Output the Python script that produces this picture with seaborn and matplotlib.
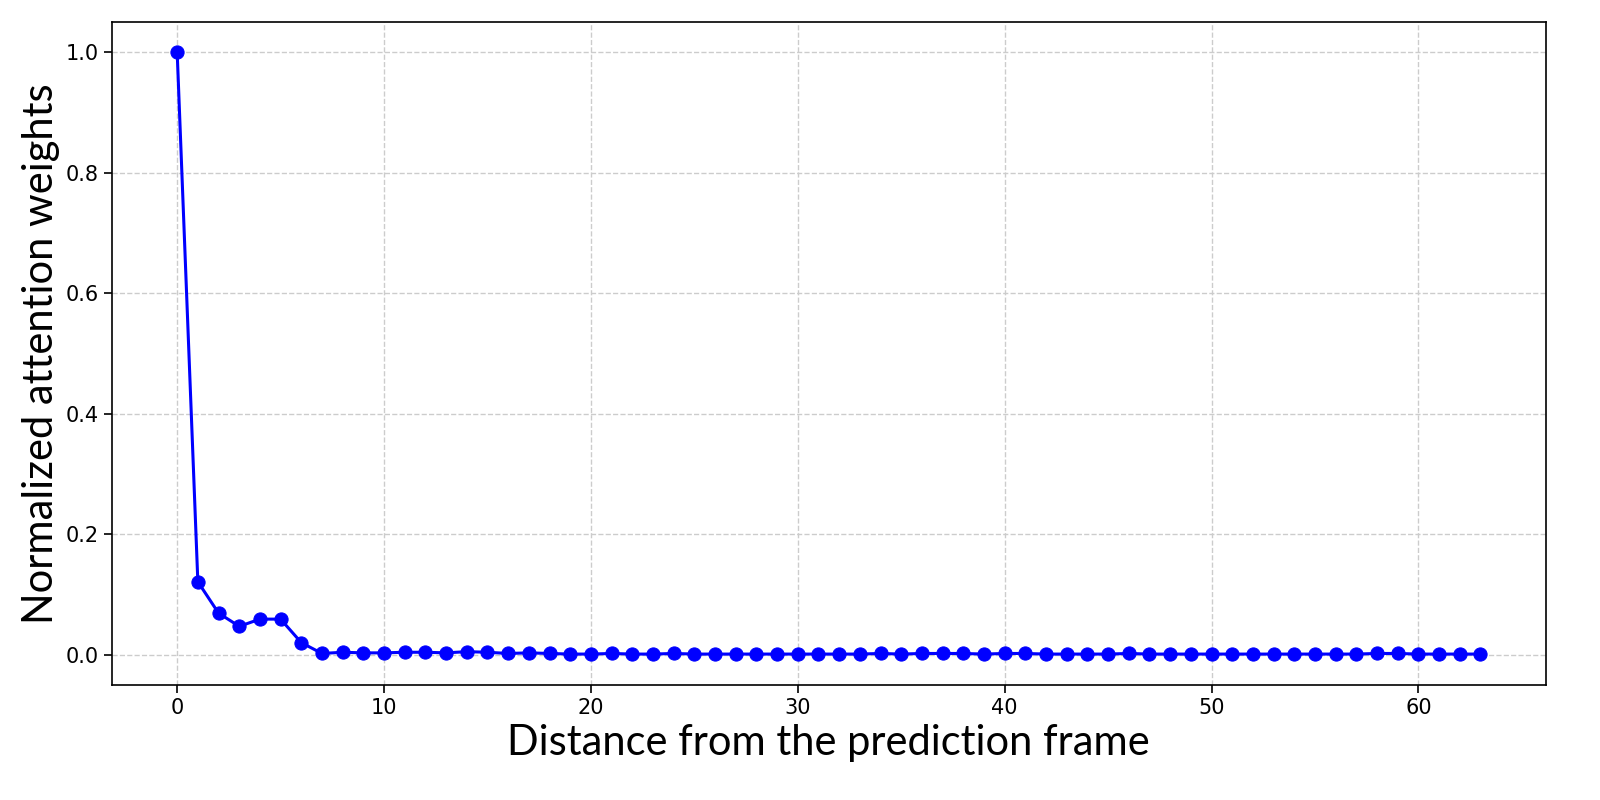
import numpy as np
import pandas as pd
import seaborn as sns
from matplotlib import pyplot as plt

# distance from the prediction frame, 0..63
distance = list(range(64))

# normalized attention weights
weights = [
    1.000, 0.121, 0.069, 0.047, 0.059, 0.059, 0.020, 0.002,
    0.004, 0.003, 0.003, 0.004, 0.004, 0.003, 0.005, 0.004,
    0.002, 0.003, 0.002, 0.001, 0.001, 0.002, 0.001, 0.001,
    0.002, 0.001, 0.001, 0.001, 0.001, 0.001, 0.001, 0.001,
    0.001, 0.001, 0.002, 0.001, 0.002, 0.002, 0.002, 0.001,
    0.002, 0.002, 0.001, 0.001, 0.001, 0.001, 0.002, 0.001,
    0.001, 0.001, 0.001, 0.001, 0.001, 0.001, 0.001, 0.001,
    0.001, 0.001, 0.002, 0.002, 0.001, 0.001, 0.001, 0.001,
]

df = pd.DataFrame({"distance": distance, "weight": weights})

sns.set_style("ticks", {"axes.edgecolor": "black", "xtick.color": "black",
                        "ytick.color": "black", "axes.labelcolor": "black",
                        "text.color": "black"})
plt.rcParams["font.family"] = ["DejaVu Sans"]

fig, ax = plt.subplots(figsize=(16, 8), dpi=100)
fig.subplots_adjust(left=0.07, right=0.966, top=0.9725, bottom=0.144)

sns.lineplot(data=df, x="distance", y="weight", ax=ax, color="blue",
             marker="o", markersize=9.5, markeredgecolor="blue", linewidth=2.2)

ax.grid(True, linestyle="--", color="#cccccc", linewidth=1)
ax.set_xticks([0, 10, 20, 30, 40, 50, 60])
ax.set_yticks([0.0, 0.2, 0.4, 0.6, 0.8, 1.0])
ax.set_yticklabels(["0.0", "0.2", "0.4", "0.6", "0.8", "1.0"])
ax.tick_params(labelsize=15, length=6, width=1.2)
ax.set_xlim(-3.15, 66.15)
ax.set_ylim(-0.05, 1.05)

ax.set_xlabel("Distance from the prediction frame", fontsize=30,
              family=["Lato", "DejaVu Sans"], color="black")
ax.set_ylabel("Normalized attention weights", fontsize=30,
              family=["Lato", "DejaVu Sans"], color="black")
for s in ax.spines.values():
    s.set_linewidth(1.2)

fig.savefig("out.png", dpi=100)
